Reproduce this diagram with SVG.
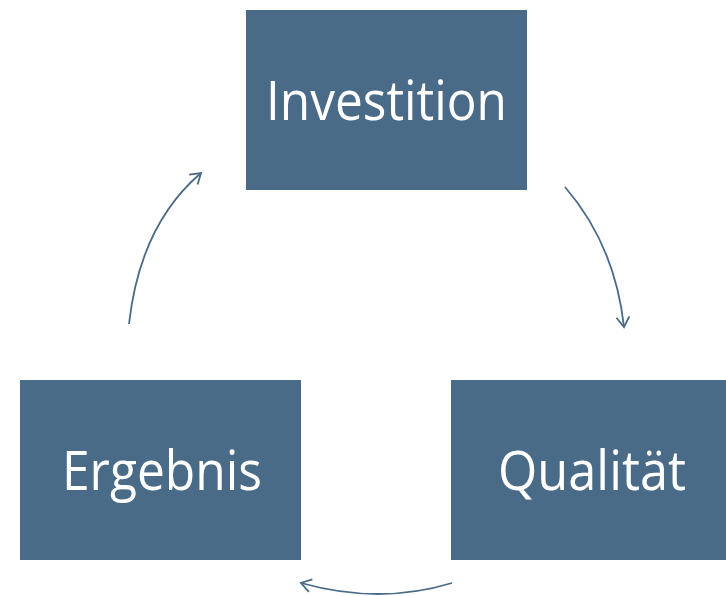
<svg xmlns="http://www.w3.org/2000/svg" width="726" height="596" viewBox="0 0 726 596">
<style>
.box{fill:#4a6b88}
.lbl{fill:#ffffff;font-family:"Open Sans","Noto Sans",sans-serif;font-size:54px;text-anchor:middle}
.con{fill:none;stroke:#4a6b88;stroke-width:1.8;marker-end:url(#ah)}
</style>
<defs>
<marker id="ah" markerUnits="userSpaceOnUse" markerWidth="24" markerHeight="24" viewBox="-12 -12 24 24" refX="0" refY="0" orient="auto">
<path d="M-10,-6.5 L0,0 L-10,6.5" fill="none" stroke="#4a6b88" stroke-width="1.8"/>
</marker>
</defs>
<rect width="726" height="596" fill="#ffffff"/>
<g id="investition">
<rect class="box" x="246" y="10" width="281" height="180"/>
<text class="lbl" x="386.5" y="120" textLength="241" lengthAdjust="spacingAndGlyphs">Investition</text>
</g>
<g id="qualitaet">
<rect class="box" x="451" y="380" width="275" height="180"/>
<text class="lbl" x="592" y="490" textLength="188" lengthAdjust="spacingAndGlyphs">Qualität</text>
</g>
<g id="ergebnis">
<rect class="box" x="20" y="380" width="281" height="180"/>
<text class="lbl" x="162" y="490" textLength="200" lengthAdjust="spacingAndGlyphs">Ergebnis</text>
</g>
<g id="connectors">
<path class="con" d="M565,187 Q615,245 624,327"/>
<path class="con" d="M452,583 Q380,605 301,583"/>
<path class="con" d="M129,324 Q140,225 201,173"/>
</g>
</svg>
